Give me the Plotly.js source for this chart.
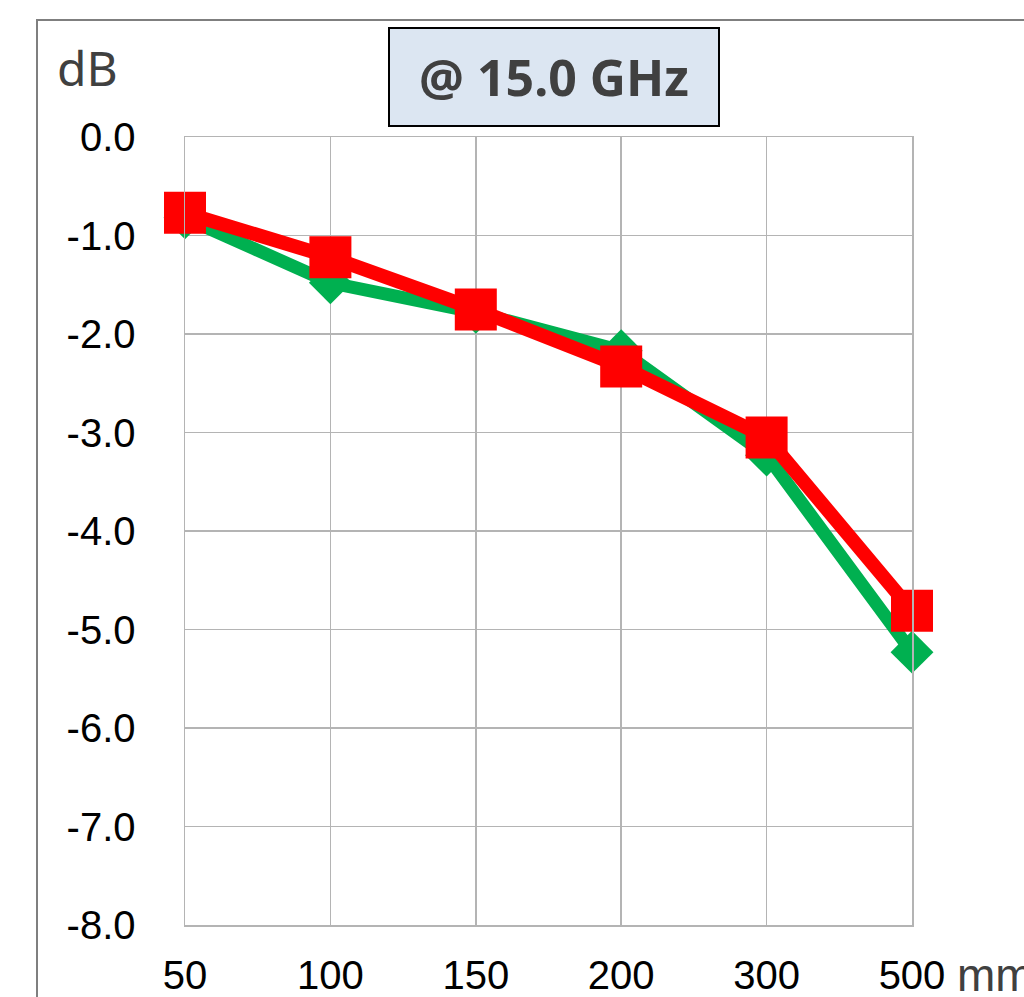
<!DOCTYPE html>
<html><head><meta charset="utf-8">
<script src="https://cdn.plot.ly/plotly-3.0.1.min.js"></script>
<style>html,body{margin:0;padding:0;background:#fff;overflow:hidden}</style>
</head><body>
<div id="chart" style="width:1024px;height:997px"></div>
<script>
const categories = ["50", "100", "150", "200", "300", "500"];
const greenValues = [-0.82, -1.48, -1.78, -2.17, -3.23, -5.23];
const redValues = [-0.77, -1.22, -1.75, -2.33, -3.05, -4.81];
const yTicks = [0, -1, -2, -3, -4, -5, -6, -7, -8];
const yTickText = ["0.0", "-1.0", "-2.0", "-3.0", "-4.0", "-5.0", "-6.0", "-7.0", "-8.0"];
const titleText = "@ 15.0 GHz";
const yUnit = "dB";
const xUnit = "mm";

const W = 1024, H = 997, L = 185, R = 912, T = 137, B = 925;
const px = v => (v - L) / (R - L);
const py = v => (B - v) / (B - T);

const traces = [
  {x: categories, y: greenValues, type: 'scatter', mode: 'lines+markers', cliponaxis: false,
   line: {color: '#00b050', width: 13}, marker: {symbol: 'diamond', size: 33, color: '#00b050'}},
  {x: categories, y: redValues, type: 'scatter', mode: 'lines+markers', cliponaxis: false,
   line: {color: '#ff0000', width: 14}, marker: {symbol: 'square', size: 42, color: '#ff0000'}}
];

const gridC = '#b4b4b4';
const layout = {
  width: W, height: H,
  margin: {l: L, r: W - R, t: T, b: H - B, pad: 0},
  paper_bgcolor: '#ffffff', plot_bgcolor: '#ffffff',
  showlegend: false,
  font: {family: 'Liberation Sans, Arial, sans-serif', color: '#000'},
  xaxis: {type: 'category', range: [0, categories.length - 1], showgrid: true, gridcolor: gridC, gridwidth: 1.5,
    showline: true, linecolor: gridC, linewidth: 1.5, mirror: true, zeroline: false,
    ticks: 'outside', ticklen: 14, tickcolor: 'rgba(0,0,0,0)', tickfont: {size: 40, color: '#000'}},
  yaxis: {range: [-8, 0], tickvals: yTicks, ticktext: yTickText, showgrid: true, gridcolor: gridC, gridwidth: 1.5,
    showline: true, linecolor: gridC, linewidth: 1.5, mirror: true, zeroline: false,
    ticks: 'outside', ticklen: 40, tickcolor: 'rgba(0,0,0,0)', tickfont: {size: 40, color: '#000'}},
  shapes: [
    {type: 'rect', xref: 'paper', yref: 'paper', x0: px(37), x1: px(1100), y0: py(1100), y1: py(20),
     line: {color: '#7f7f7f', width: 2}, fillcolor: 'rgba(0,0,0,0)', layer: 'below'}
  ],
  annotations: [
    {text: '<b>' + titleText + '</b>', xref: 'paper', yref: 'paper', x: px(554), y: py(77),
     xanchor: 'center', yanchor: 'middle', showarrow: false, width: 326, height: 94,
     bgcolor: '#dce6f2', bordercolor: '#000', borderwidth: 2,
     font: {family: 'Noto Sans, Open Sans, sans-serif', size: 50, color: '#404040'}},
    {text: yUnit, xref: 'paper', yref: 'paper', x: px(55), y: py(67), xanchor: 'left', yanchor: 'middle',
     showarrow: false, font: {family: 'Noto Sans, Open Sans, sans-serif', size: 48, color: '#404040'}},
    {text: xUnit, xref: 'paper', yref: 'paper', x: px(955), y: py(975), xanchor: 'left', yanchor: 'middle',
     showarrow: false, font: {family: 'Liberation Sans, Arial, sans-serif', size: 46, color: '#404040'}}
  ]
};
Plotly.newPlot('chart', traces, layout, {displayModeBar: false, staticPlot: true});
</script>
</body></html>
